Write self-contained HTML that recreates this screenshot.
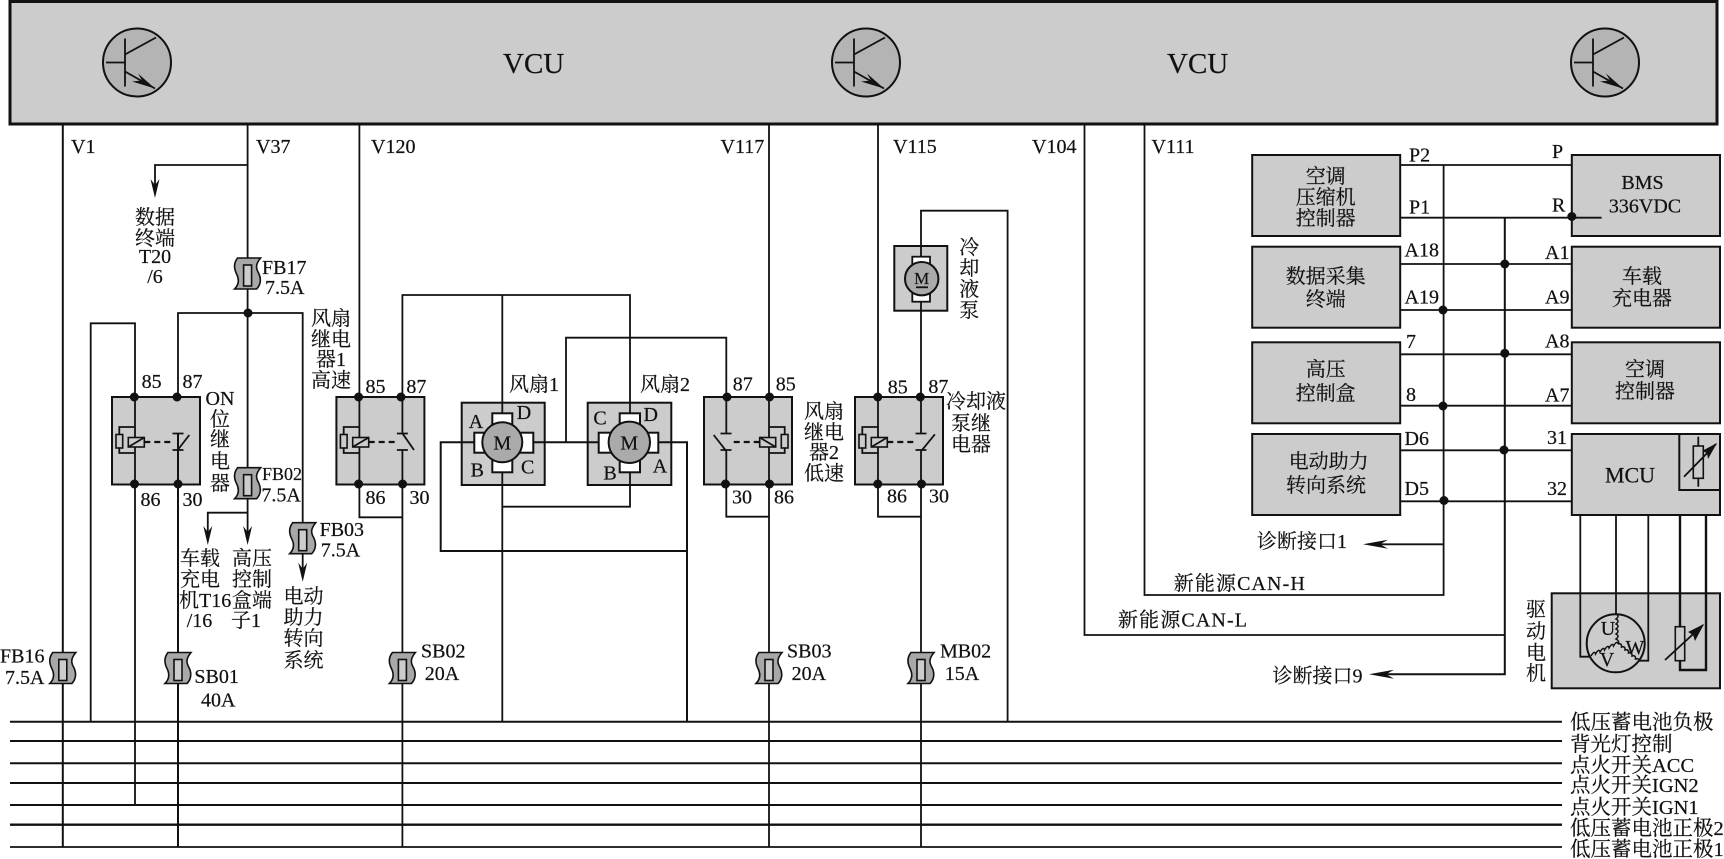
<!DOCTYPE html>
<html lang="zh">
<head>
<meta charset="utf-8">
<title>VCU</title>
<style>
html,body{margin:0;padding:0;background:#fff;width:1724px;height:859px;overflow:hidden}
svg{display:block}
text{font-family:"Liberation Serif","Noto Serif CJK SC",serif;font-size:20px;fill:#111;stroke:#111;stroke-width:.2}
.m{text-anchor:middle}
.w{fill:none;stroke:#111;stroke-width:1.8}
.t{fill:none;stroke:#111;stroke-width:2.4}
.b{fill:#ccc;stroke:#111;stroke-width:2}
.d{fill:#111;stroke:none}
.bl{font-size:20.5px}
</style>
</head>
<body>
<svg width="1724" height="859" viewBox="0 0 1724 859" xmlns="http://www.w3.org/2000/svg">
<defs>
<g id="tr">
<circle r="34" fill="#b4b4b4" stroke="#111" stroke-width="2"/>
<path class="w" d="M-31,0H-12M-12,-24V24M-12,-8L19,-25M-12,9L18,26"/>
<path class="d" d="M18,26L1,11L5,18L-5,19Z"/>
</g>
<g id="fu">
<path d="M-10,0H13C8,6 8,10 11,15C14,21 13,27 9,31H-13C-9,27 -8,22 -11,16C-14,10 -14,5 -10,0Z" fill="#a8a8a8" stroke="#111" stroke-width="1.6"/>
<rect x="-4" y="7" width="8" height="21" fill="#ccc" stroke="#111" stroke-width="1.6"/>
</g>
<g id="rl">
<rect x="-23" y="0" width="88" height="87.5" class="b"/>
</g>
<g id="co">
<path class="w" d="M0,30H-15.7V37.5M-15.7,51V56H0"/>
<rect x="-19" y="37.5" width="6.7" height="13.5" fill="#ccc" stroke="#111" stroke-width="1.6"/>
<rect x="-6.7" y="40.5" width="16" height="9.5" fill="#ccc" stroke="#111" stroke-width="1.6"/>
<path class="w" d="M-6.7,50L9.3,40.5"/>
<path d="M9.3,45H38" fill="none" stroke="#111" stroke-width="2.2" stroke-dasharray="6 4"/>
<path class="w" d="M37.5,36.5H48.5M37.5,53H48.5"/>
</g>
<g id="dn"><path class="d" d="M0,0L-4.5,-19L0,-13L4.5,-19Z"/></g>
<g id="lf"><path class="d" d="M0,0L25,-4.5L17,0L25,4.5Z"/></g>
</defs>

<!-- VCU -->
<rect x="10" y="1.5" width="1707" height="122.5" fill="#ccc" stroke="#111" stroke-width="3"/>
<use href="#tr" x="137" y="62.5"/>
<use href="#tr" x="866" y="62.5"/>
<use href="#tr" x="1605" y="62.5"/>
<text x="503" y="73" style="font-size:29px">VCU</text>
<text x="1167" y="73" style="font-size:29px">VCU</text>

<!-- relay boxes -->
<use href="#rl" x="135" y="397"/>
<use href="#rl" x="359.4" y="397"/>
<use href="#rl" transform="translate(769,397) scale(-1,1)"/>
<use href="#rl" x="878" y="397"/>

<!-- fan and pump boxes -->
<rect x="461.7" y="402.7" width="83" height="82.3" class="b"/>
<rect x="587.7" y="402.7" width="83.6" height="82.3" class="b"/>
<rect x="894.3" y="246" width="53" height="64.7" class="b"/>

<!-- right boxes -->
<rect x="1252.2" y="155" width="148" height="81" class="b"/>
<rect x="1252.2" y="246.7" width="148" height="81" class="b"/>
<rect x="1252.2" y="342.3" width="148" height="81" class="b"/>
<rect x="1252.2" y="434" width="148" height="81" class="b"/>
<rect x="1571.8" y="155" width="148.2" height="81" class="b"/>
<rect x="1571.8" y="246.7" width="148.2" height="81" class="b"/>
<rect x="1571.8" y="342.3" width="148.2" height="81" class="b"/>
<rect x="1571.8" y="434" width="148.2" height="81" class="b"/>
<rect x="1551.7" y="593.3" width="168.3" height="95" class="b"/>

<!-- bus -->
<path class="w" style="stroke-width:2" d="M10,721.7H1562M10,741H1562M10,763.3H1562M10,783H1562M10,805H1562"/>
<path class="w" style="stroke-width:2.4" d="M10,824.7H1562"/>
<path class="w" style="stroke-width:1.8" d="M10,847H1562"/>

<!-- left wires -->
<path class="w" style="stroke-width:2" d="M62.8,124V847"/>
<path class="w" d="M247.6,124V540M247.6,165H155V190"/>
<path class="w" d="M178,397V313H302.7V575"/>
<path class="w" d="M90.7,721.7V323.3H135V805"/>
<path class="w" style="stroke-width:2" d="M178,484V433M178,450V847"/>
<path class="w" d="M247.6,512.7H207.8V535"/>
<path class="w" d="M359.4,124V517.3H402.4"/>
<path class="w" d="M402.4,433V295H630V414"/>
<path class="w" d="M402.4,450V847"/>
<path class="w" d="M502.3,295V414M502.3,472V721.7"/>
<path class="w" d="M566,442.3V337.7H726.3V433.5M726.3,450.7V516.7H769"/>
<path class="w" d="M769,124V847"/>
<path class="w" style="stroke-width:2" d="M474,442.3H440.7V551H687"/>
<path class="w" style="stroke-width:2" d="M533,442.3H599M658,442.3H687V721.7"/>
<path class="w" d="M502.3,506.7H630V472"/>
<path class="w" d="M878,124V516.7H921"/>
<path class="w" d="M921,433V210.7H1007.6V721.7M921,450.7V847"/>

<!-- relay insides -->
<use href="#co" x="135" y="397"/>
<path class="w" d="M177.7,450L189.3,435"/>
<use href="#co" x="359.4" y="397"/>
<path class="w" d="M402.4,433.3L414,450"/>
<use href="#co" transform="translate(769,397) scale(-1,1)"/>
<path class="w" d="M726,450.7L713.7,435"/>
<use href="#co" x="878" y="397"/>
<path class="w" d="M921.5,450.7L934.9,434.3"/>

<!-- dots -->
<g class="d">
<circle cx="248" cy="313" r="4.5"/>
<circle cx="134.3" cy="397" r="4.5"/><circle cx="177" cy="397" r="4.5"/><circle cx="134.5" cy="484" r="4.5"/><circle cx="178" cy="484" r="4.5"/>
<circle cx="358.6" cy="397" r="4.5"/><circle cx="401" cy="397" r="4.5"/><circle cx="358.6" cy="484" r="4.5"/><circle cx="402.6" cy="484" r="4.5"/>
<circle cx="727" cy="397" r="4.5"/><circle cx="769.5" cy="397" r="4.5"/><circle cx="725.5" cy="484" r="4.5"/><circle cx="769.5" cy="484" r="4.5"/>
<circle cx="877.8" cy="397" r="4.5"/><circle cx="920.3" cy="397" r="4.5"/><circle cx="877.8" cy="484" r="4.5"/><circle cx="921.5" cy="484" r="4.5"/>
</g>

<!-- fuses -->
<use href="#fu" x="247.6" y="258"/>
<use href="#fu" x="247.6" y="467.7"/>
<use href="#fu" x="302.7" y="522.7"/>
<use href="#fu" x="62.8" y="652.5"/>
<use href="#fu" x="178" y="652.5"/>
<use href="#fu" x="402.4" y="652.5"/>
<use href="#fu" x="769" y="652.5"/>
<use href="#fu" x="921" y="652.5"/>

<!-- arrowheads -->
<use href="#dn" x="155" y="198"/>
<use href="#dn" x="207.8" y="545"/>
<use href="#dn" x="247.6" y="545"/>
<use href="#dn" x="302.7" y="581.7"/>

<!-- fan motors -->
<g fill="#fff" stroke="#111" stroke-width="2">
<rect x="492.3" y="413.3" width="20" height="12"/><rect x="492.3" y="460" width="20" height="12.3"/>
<rect x="474.3" y="432.7" width="11" height="20"/><rect x="519.7" y="432.7" width="13.6" height="20"/>
<rect x="619.7" y="413.3" width="20.3" height="12"/><rect x="619.7" y="460" width="20.3" height="12.3"/>
<rect x="598.7" y="432.7" width="13" height="20"/><rect x="647" y="432.7" width="11.3" height="20"/>
</g>
<circle cx="502.3" cy="442.3" r="20" fill="#aaa" stroke="#111" stroke-width="2"/>
<circle cx="629.3" cy="442.3" r="20.7" fill="#aaa" stroke="#111" stroke-width="2"/>
<text class="m" x="502.3" y="449.5">M</text>
<text class="m" x="629.3" y="449.5">M</text>
<text class="m" x="476" y="428">A</text><text class="m" x="524" y="419">D</text><text class="m" x="477.3" y="476.5">B</text><text class="m" x="527.7" y="473.5">C</text>
<text class="m" x="600" y="424.5">C</text><text class="m" x="650.7" y="421">D</text><text class="m" x="610" y="479.5">B</text><text class="m" x="660" y="472.5">A</text>

<!-- pump motor -->
<g fill="#fff" stroke="#111" stroke-width="1.8">
<rect x="912.3" y="256.7" width="17.7" height="9"/><rect x="912.3" y="292.7" width="17.7" height="9"/>
</g>
<circle cx="921.7" cy="278.7" r="16.7" fill="#aaa" stroke="#111" stroke-width="2"/>
<text class="m" x="921.7" y="284" style="font-size:17px">M</text>
<path class="w" d="M916,287.3H928"/>

<!-- right wires -->
<path class="w" d="M1084.5,124V635H1504.8"/>
<path class="w" d="M1144.5,124V595H1443.6V165"/>
<path class="w" d="M1400,165H1572M1400,217.7H1601.6M1400,264H1572M1400,310H1572M1400,354.3H1572M1400,405.7H1572M1400,450.3H1572M1400,501.3H1572"/>
<path class="w" style="stroke-width:2" d="M1504.8,217.7V674.3H1380"/>
<path class="w" d="M1443.6,544.3H1375"/>
<use href="#lf" x="1363" y="544.3"/>
<use href="#lf" x="1369" y="674.3"/>
<g class="d">
<circle cx="1504.8" cy="264" r="4.5"/><circle cx="1443" cy="310" r="4.5"/><circle cx="1504.8" cy="353.3" r="4.5"/><circle cx="1443" cy="406" r="4.5"/><circle cx="1504" cy="450" r="4.5"/><circle cx="1444" cy="500.5" r="4.5"/><circle cx="1571.8" cy="216.5" r="4.5"/>
</g>

<!-- MCU sub-box -->
<path class="w" style="stroke-width:2" d="M1679.3,434V490H1720"/>
<path class="w" d="M1698.3,436.7V486.7"/>
<rect x="1693.3" y="446" width="10" height="32.3" fill="#ccc" stroke="#111" stroke-width="1.6"/>
<path class="w" d="M1684,476.7L1716,444"/>
<path class="d" d="M1717,443L1702,451L1707,453L1708,459Z"/>

<!-- motor wires -->
<path class="w" d="M1580.3,515V656.7H1590"/>
<path class="w" d="M1616,515V614"/>
<path class="w" d="M1648.3,515V660.7H1639.3"/>
<path class="t" d="M1680,515V626.7M1680,660.7V670H1706V515"/>
<circle cx="1615.7" cy="643.3" r="29" fill="none" stroke="#111" stroke-width="2"/>
<path class="w" style="stroke-width:1.5" d="M1616,614q4,2 0,5q4,2 0,5q4,2 0,5q4,2 0,5q4,2 0,5q4,2 2,5"/>
<path class="w" style="stroke-width:1.5" d="M1618,644q-1,-4 -4.5,2q-1,-4 -4.5,2q-1,-4 -4.5,2q-1,-4 -4.5,2q-1,-4 -4.5,2q-1,-4 -4.5,2"/>
<path class="w" style="stroke-width:1.5" d="M1618,644q4,-1 3.5,3q4,-1 3.5,3q4,-1 3.5,3q4,-1 3.5,3q4,-1 3.5,3q4,-1 3.5,2"/>
<rect x="1675.3" y="626.7" width="9.4" height="34" fill="#ccc" stroke="#111" stroke-width="1.6"/>
<path class="w" d="M1665,660L1703,625"/>
<path class="d" d="M1704,624L1688,632L1693,635L1695,641Z"/>
<text class="m" x="1608" y="635">U</text>
<text class="m" x="1607" y="666">V</text>
<text class="m" x="1635" y="654">W</text>

<!-- wire labels -->
<text x="71" y="153">V1</text>
<text x="256" y="153">V37</text>
<text x="371" y="153">V120</text>
<text x="720.5" y="153">V117</text>
<text x="893" y="153">V115</text>
<text x="1032" y="153">V104</text>
<text x="1151.5" y="153">V111</text>

<text class="m" x="155" y="224">数据</text>
<text class="m" x="155" y="245">终端</text>
<text class="m" x="155" y="263">T20</text>
<text class="m" x="155" y="283">/6</text>

<text x="262" y="274">FB17</text><text x="265" y="294">7.5A</text>
<text x="262" y="480" style="font-size:18px">FB02</text><text x="261.4" y="501.7">7.5A</text>
<text x="319.6" y="536">FB03</text><text x="320.7" y="556.7">7.5A</text>
<text x="0" y="662.7">FB16</text><text x="5" y="684">7.5A</text>
<text x="194.4" y="683">SB01</text><text x="201" y="706.7">40A</text>
<text x="421" y="657.7">SB02</text><text x="424.8" y="680">20A</text>
<text x="787" y="657.7">SB03</text><text x="791.6" y="680">20A</text>
<text x="940" y="657.7">MB02</text><text x="944.7" y="680">15A</text>

<text x="141.6" y="388">85</text><text x="182.5" y="388">87</text><text x="140.5" y="506">86</text><text x="182.5" y="506">30</text>
<text x="365.5" y="393">85</text><text x="406.4" y="393">87</text><text x="365.5" y="504">86</text><text x="409.5" y="504">30</text>
<text x="732.8" y="390.7">87</text><text x="775.7" y="390.7">85</text><text x="732" y="503.3">30</text><text x="774" y="503.3">86</text>
<text x="887.8" y="393.3">85</text><text x="928.4" y="393">87</text><text x="887" y="502.7">86</text><text x="929" y="502.7">30</text>

<text class="m" x="220" y="405">ON</text>
<text class="m" x="220" y="426">位</text>
<text class="m" x="220" y="446">继</text>
<text class="m" x="220" y="468">电</text>
<text class="m" x="220" y="490">器</text>

<text class="m" x="331" y="325">风扇</text>
<text class="m" x="331" y="346">继电</text>
<text class="m" x="331" y="366">器1</text>
<text class="m" x="331" y="387">高速</text>

<text x="509" y="391">风扇1</text>
<text x="640" y="391">风扇2</text>

<text class="m" x="824" y="418">风扇</text>
<text class="m" x="824" y="439">继电</text>
<text class="m" x="824" y="459">器2</text>
<text class="m" x="824" y="480">低速</text>

<text class="m" x="976" y="408">冷却液</text>
<text class="m" x="971" y="430">泵继</text>
<text class="m" x="971" y="451">电器</text>

<text class="m" x="969.3" y="254">冷</text>
<text class="m" x="969.3" y="275">却</text>
<text class="m" x="969.3" y="296">液</text>
<text class="m" x="969.3" y="317">泵</text>

<text class="m" x="200" y="565">车载</text>
<text class="m" x="200" y="586">充电</text>
<text x="179" y="607">机T16</text>
<text class="m" x="199.5" y="627">/16</text>
<text class="m" x="252" y="565">高压</text>
<text class="m" x="252" y="586">控制</text>
<text class="m" x="252" y="607">盒端</text>
<text x="231" y="627">子1</text>

<text class="m" x="303.5" y="603">电动</text>
<text class="m" x="303.5" y="624">助力</text>
<text class="m" x="303.5" y="645">转向</text>
<text class="m" x="303.5" y="667">系统</text>

<!-- connector labels -->
<text x="1409" y="161.7">P2</text><text x="1552" y="158">P</text>
<text x="1409" y="213.3">P1</text><text x="1552" y="211.7">R</text>
<text x="1404.5" y="256.7">A18</text><text x="1545" y="259">A1</text>
<text x="1404.5" y="303.3">A19</text><text x="1545" y="303.3">A9</text>
<text x="1406" y="348">7</text><text x="1545" y="347.3">A8</text>
<text x="1406" y="401">8</text><text x="1545" y="401.7">A7</text>
<text x="1404.5" y="445">D6</text><text x="1547" y="444">31</text>
<text x="1404.5" y="495">D5</text><text x="1547" y="495">32</text>

<!-- box labels -->
<text class="m" x="1325.7" y="183">空调</text>
<text class="m" x="1325.7" y="204">压缩机</text>
<text class="m" x="1325.7" y="225">控制器</text>
<text class="m" x="1325.7" y="283">数据采集</text>
<text class="m" x="1325.7" y="306">终端</text>
<text class="m" x="1325.7" y="376">高压</text>
<text class="m" x="1325.7" y="400">控制盒</text>
<text class="m" x="1328.7" y="468">电动助力</text>
<text class="m" x="1326" y="492">转向系统</text>
<text class="m" x="1642.5" y="189">BMS</text>
<text class="m" x="1645" y="212.3">336VDC</text>
<text class="m" x="1642" y="283">车载</text>
<text class="m" x="1642" y="305">充电器</text>
<text class="m" x="1645" y="376">空调</text>
<text class="m" x="1645" y="398">控制器</text>
<text class="m" x="1630" y="482.7" style="font-size:22px">MCU</text>

<text class="m" x="1536" y="616">驱</text>
<text class="m" x="1536" y="638">动</text>
<text class="m" x="1536" y="659.5">电</text>
<text class="m" x="1536" y="680">机</text>

<text x="1257" y="548">诊断接口1</text>
<text x="1272.5" y="682.7">诊断接口9</text>
<text x="1173.8" y="590" textLength="131">新能源CAN-H</text>
<text x="1118" y="626.7" textLength="129">新能源CAN-L</text>

<!-- bus labels -->
<text class="bl" x="1570" y="729">低压蓄电池负极</text>
<text class="bl" x="1570" y="751">背光灯控制</text>
<text class="bl" x="1570" y="772">点火开关ACC</text>
<text class="bl" x="1570" y="792">点火开关IGN2</text>
<text class="bl" x="1570" y="814">点火开关IGN1</text>
<text class="bl" x="1570" y="835">低压蓄电池正极2</text>
<text class="bl" x="1570" y="856">低压蓄电池正极1</text>
</svg>
</body>
</html>
